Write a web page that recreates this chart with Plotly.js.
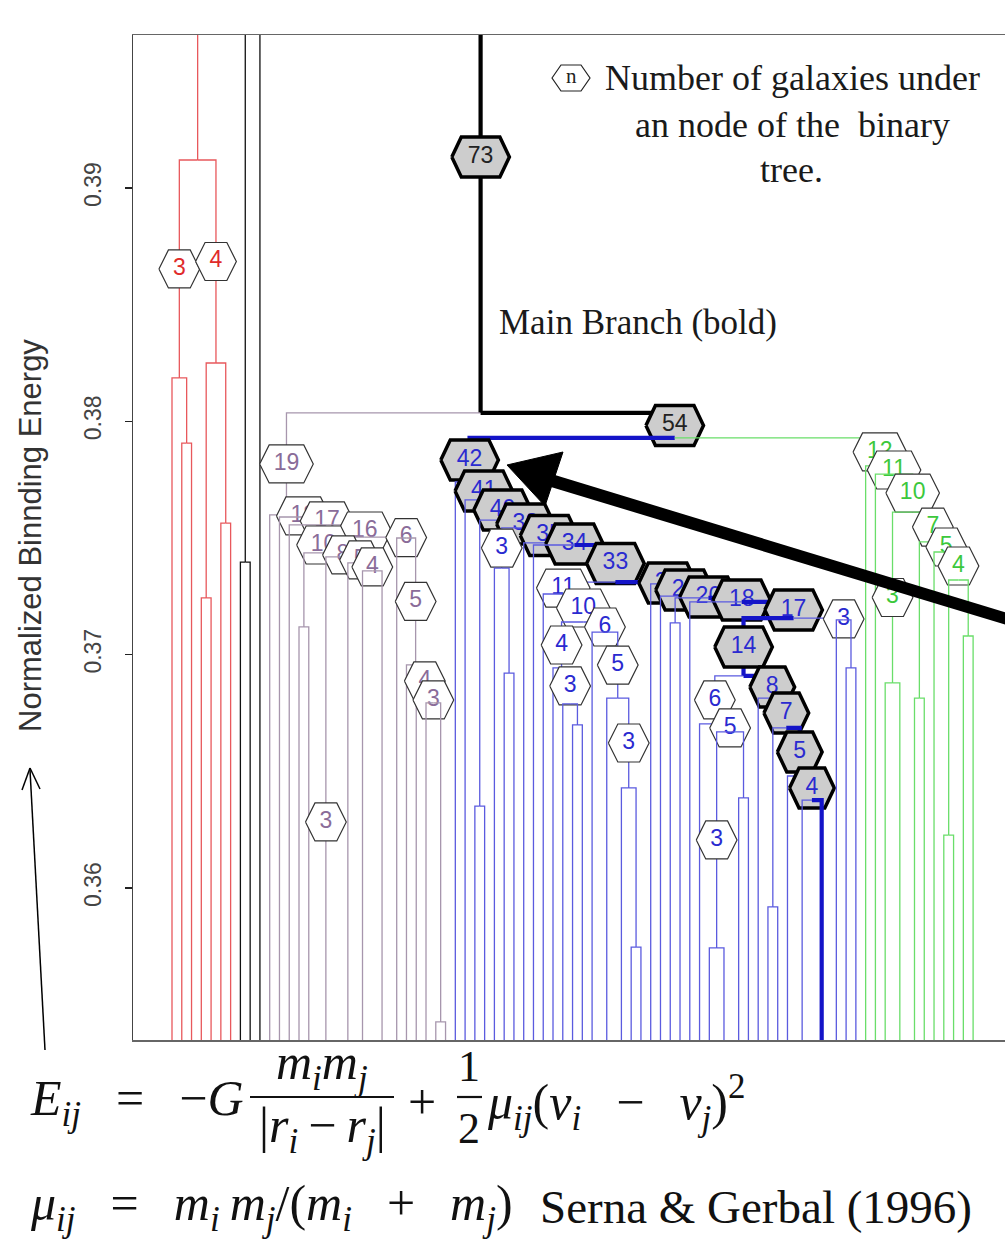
<!DOCTYPE html>
<html><head><meta charset="utf-8">
<script src="https://cdn.plot.ly/plotly-3.0.1.min.js"></script>
<style>html,body{margin:0;padding:0;overflow:hidden;background:#fff}</style>
</head><body>
<div id="chart" style="width:1030px;height:1239px"></div>
<script>
// ================= DATA =================
// 83 leaves (galaxies) in dendrogram order, numbered 0..82
const leafCount = 83;
const leafBaseHeight = 0.35;
// merge table: node name, left child, right child, merge height (normalized binding energy)
const nodeName = ['r12','r3','r34','r56','r4','R','C',
 'p2728','p3','p4','p5','p6','p1920','p2122','p4a','p5a','p1617','p3a','p8','p1314','p10','p16','p17','p18','p19',
 'b3132','b3435','b3','b4142','b3c','b4','b4445','b4748','b3d','b5','b6','b10','b11','b5152','b5657','b3w','b5859','b5w','b6w','b6162','b6465','b6667',
 'bc4','bc5','bc7','bc8','bc14','b6970','b3e','bc17','bc18','bc20','bc21','bc22','bc33','bc34','bc35','bc38','bc40','bc41','bc42',
 'g7475','g3','g7677','g7980','g8182','g4','g5','g7','g10','g11','g12','M54','M73','T1','T2','T3'];
const nodeLeft = ['L1','L0','L3','L5','r34','r3','L7',
 'L27','L26','L25','L24','L23','L19','L21','p1920','L18','L16','L15','p3a','L13','p1314','p10','L12','L11','L10',
 'L31','L34','L33','L41','L40','L39','L44','L47','L46','b4445','L43','b4','L38','L51','L56','L55','L58','b3w','L54','L61','L64','L66',
 'b6465','L63','b6162','L60','b6w','L69','L68','bc14','L53','b5152','L50','L49','b11','L37','L36','b3','b3132','L30','L29',
 'L74','L73','L76','L79','L81','g7980','L78','g7677','g3','L72','L71','bc42','p19','L9','C','R'];
const nodeRight = ['L2','r12','L4','L6','r56','r4','L8',
 'L28','p2728','p3','p4','p5','L20','L22','p2122','p4a','L17','p1617','p5a','L14','p8','p6','p16','p17','p18',
 'L32','L35','b3435','L42','b4142','b3c','L45','L48','b4748','b3d','b5','b6','b10','L52','L57','b5657','L59','b5859','b5w','L62','L65','L67',
 'b6667','bc4','bc5','bc7','bc8','L70','b6970','b3e','bc17','bc18','bc20','bc21','bc22','bc33','bc34','bc35','bc38','bc40','bc41',
 'L75','g7475','L77','L80','L82','g8182','g4','g5','g7','g10','g11','g12','M54','M73','T1','T2'];
const nodeHeight = [0.37907,0.38186,0.37243,0.37564,0.38250,0.39120,0.37397,
 0.35426,0.36793,0.36819,0.36956,0.37500,0.3520,0.3520,0.37359,0.37393,0.3510,0.35147,0.37419,0.37119,0.37436,0.37504,0.37556,0.37590,0.37599,
 0.36351,0.36921,0.37371,0.36699,0.36789,0.36943,0.3520,0.35747,0.36429,0.36814,0.37097,0.37140,0.37260,0.37136,0.3520,0.35743,0.36386,0.36669,0.36703,0.35919,0.3520,0.3520,
 0.36377,0.36480,0.36686,0.36814,0.36909,0.36943,0.37149,0.37157,0.37226,0.37243,0.37251,0.37303,0.37311,0.37470,0.37479,0.37543,0.37577,0.37663,0.37740,
 0.3520,0.36879,0.36814,0.36227,0.37080,0.37320,0.37440,0.37483,0.37611,0.37774,0.37809,0.37929,0.38036,0.40230,0.406,0.41];
// colour groups (sub-tree roots)
const groupRoots = ['R','C','L9','p19','bc42','g12'];
const groupLineColors = ['#e8585c','#111111','#111111','#a796ad','#5b5bdf','#6ade6a'];
const groupTextColors = ['#e02a2a','#222222','#222222','#8a6c99','#2a2ad0','#3cc83c'];
const groupBoldColors = ['#e02a2a','#000000','#000000','#8a6c99','#1414c8','#2fbf2f'];
const defaultLineColor = '#000000';
const mainPathLeaf = 'L66';
const tickValues = [0.36, 0.37, 0.38, 0.39];
const tickLabels = ['0.36', '0.37', '0.38', '0.39'];
const yTitle = 'Normalized Binnding Energy';

// ================= LAYOUT GEOMETRY =================
const W = 1030, H = 1239;
const M = {l:133, r:10, t:35, b:199};
const PW = W - M.l - M.r, PH = H - M.t - M.b;
const xRange = [-3.992, 86.80];
const yRange = [0.353486, 0.396557];
const ux = (xRange[1]-xRange[0]) / PW;   // data units per px
const uy = (yRange[1]-yRange[0]) / PH;
const px2x = p => (p - M.l) / PW;            // page px -> paper
const py2y = p => (M.t + PH - p) / PH;

// ================= BUILD TREE =================
const nodes = {};
for (let i = 0; i < leafCount; i++) nodes['L'+i] = {leaf:true, x:i, h:leafBaseHeight, size:1};
nodeName.forEach((n,k) => { nodes[n] = {leaf:false, left:nodeLeft[k], right:nodeRight[k], h:nodeHeight[k]}; });
function calc(n){ const d = nodes[n]; if (d.leaf) return d; const a = calc(d.left), b = calc(d.right); d.x = (a.x+b.x)/2; d.size = a.size + b.size; return d; }
const rootName = nodeName[nodeName.length-1];
calc(rootName);
function assign(n, gi, parent){
  const d = nodes[n]; d.parent = parent;
  const g = groupRoots.indexOf(n); if (g >= 0) gi = g;
  d.g = gi;
  if (!d.leaf){ assign(d.left, gi, n); assign(d.right, gi, n); }
}
assign(rootName, -1, null);
let mp = nodes[mainPathLeaf];
while (mp){ mp.main = true; mp = mp.parent ? nodes[mp.parent] : null; }

// pre-order drawing (edge, then its label, then the sub-tree), like plot.dendrogram
const ops = [];
function plotNode(n){
  const d = nodes[n];
  [d.left, d.right].forEach(c => {
    const cd = nodes[c];
    const lc = cd.g >= 0 ? (cd.main ? groupBoldColors[cd.g] : groupLineColors[cd.g]) : defaultLineColor;
    ops.push({type:'seg', x:[d.x, cd.x, cd.x, null], y:[d.h, d.h, cd.h, null], color:lc, width: cd.main ? 4.2 : 1.3});
    const my = (d.h + cd.h)/2;
    if (cd.size >= 3 && my > yRange[0] && my < yRange[1])
      ops.push({type:'hex', x:cd.x, y:my, text:String(cd.size), main:!!cd.main,
        color: cd.g >= 0 ? groupTextColors[cd.g] : '#222'});
    if (!cd.leaf) plotNode(c);
  });
}
plotNode(rootName);

const hexFont = 23;
const traces = [];
let cur = null;
ops.forEach(op => {
  if (op.type === 'seg'){
    if (cur && cur.line.color === op.color && cur.line.width === op.width){
      cur.x.push(...op.x); cur.y.push(...op.y);
    } else {
      cur = {type:'scatter', mode:'lines', x:[...op.x], y:[...op.y], line:{color:op.color, width:op.width},
             hoverinfo:'skip', showlegend:false, connectgaps:false};
      traces.push(cur);
    }
  } else {
    cur = null;
    const tw = op.text.length * 0.556 * hexFont;
    const extra = op.main ? 2 : 0;
    const hw = (tw/2 + 14 + extra) * ux, fw = (tw/2 + 4.5 + extra) * ux, hh = (19 + extra/2) * uy;
    const x = op.x, y = op.y;
    traces.push({type:'scatter', mode:'lines',
      x:[x-hw, x-fw, x+fw, x+hw, x+fw, x-fw, x-hw],
      y:[y, y+hh, y+hh, y, y-hh, y-hh, y],
      fill:'toself', fillcolor: op.main ? '#cdcdcd' : '#ffffff',
      line:{color: op.main ? '#000' : '#333', width: op.main ? 3.5 : 1.2},
      hoverinfo:'skip', showlegend:false});
    traces.push({type:'scatter', mode:'text', x:[x], y:[y], text:[op.text], textposition:'middle center',
      textfont:{family:'Liberation Sans, Arial, sans-serif', size:hexFont, color:op.color},
      hoverinfo:'skip', showlegend:false});
  }
});

// ================= ANNOTATIONS =================
const serif = 'Liberation Serif, Times New Roman, serif';
function ann(text, px, py, opts){
  return Object.assign({text:text, x:px2x(px), y:py2y(py), xref:'paper', yref:'paper', showarrow:false,
    xanchor:'center', yanchor:'middle', font:{family:serif, size:36, color:'#1a1a1a'}}, opts||{});
}
function pathPx(pts){ return 'M ' + pts.map(p => px2x(p[0]).toFixed(5)+','+py2y(p[1]).toFixed(5)).join(' L ') + ' Z'; }
function linePx(x0,y0,x1,y1,w,c){ return {type:'line', xref:'paper', yref:'paper', x0:px2x(x0), y0:py2y(y0), x1:px2x(x1), y1:py2y(y1), line:{color:c||'#000', width:w}}; }
const mathFont = {family:serif, size:50, color:'#111'};
const sp = '\u2002\u2009';

const annotations = [
  ann(yTitle, 30, 536, {textangle:-90, font:{family:'Liberation Sans, Arial, sans-serif', size:31, color:'#333'}}),
  ann('n', 571, 76, {font:{family:serif, size:21, color:'#222'}}),
  ann('Number of galaxies under', 603, 78, {xanchor:'left'}),
  ann('an node of the \u00a0binary', 792, 125),
  ann('tree.', 791, 170),
  ann('Main Branch (bold)', 638, 323, {font:{family:serif, size:35, color:'#1a1a1a'}}),
  // formula line 1
  ann('<i>E</i><sub><i>ij</i></sub>' + sp + '=' + sp + '\u2212<i>G</i>', 28, 1102, {xanchor:'left', font:mathFont}),
  ann('<i>m</i><sub><i>i</i></sub><i>m</i><sub><i>j</i></sub>', 322, 1066, {font:mathFont}),
  ann('|<i>r</i><sub><i>i</i></sub>\u2009\u2212\u2009<i>r</i><sub><i>j</i></sub>|', 322, 1129, {font:mathFont}),
  ann('+', 422, 1102, {font:mathFont}),
  ann('1', 469, 1066, {font:{family:serif, size:44, color:'#111'}}),
  ann('2', 469, 1128, {font:{family:serif, size:44, color:'#111'}}),
  ann('<i>\u03bc</i><sub><i>ij</i></sub>(<i>v</i><sub><i>i</i></sub>' + sp + '\u2212' + sp + '<i>v</i><sub><i>j</i></sub>)<sup>2</sup>', 485, 1102, {xanchor:'left', font:mathFont}),
  // formula line 2
  ann('<i>\u03bc</i><sub><i>ij</i></sub>' + sp + '=' + sp + '<i>m</i><sub><i>i</i></sub>\u2009<i>m</i><sub><i>j</i></sub>/(<i>m</i><sub><i>i</i></sub>' + sp + '+' + sp + '<i>m</i><sub><i>j</i></sub>)', 28, 1207, {xanchor:'left', font:mathFont}),
  ann('Serna &amp; Gerbal (1996)', 538, 1207, {xanchor:'left', font:{family:serif, size:47, color:'#111'}})
];

const tip = [507, 465];
const shapes = [
  // legend hexagon
  {type:'path', xref:'paper', yref:'paper', path: pathPx([[552,78],[561,65],[581,65],[590,78],[581,91],[561,91]]), line:{color:'#222', width:1.2}, fillcolor:'rgba(0,0,0,0)'},
  // big arrow: shaft + head
  {type:'path', xref:'paper', yref:'paper', path: pathPx([[550,473.5],[1030,620],[1030,632],[546,485.5]]), line:{width:0}, fillcolor:'#000'},
  {type:'path', xref:'paper', yref:'paper', path: pathPx([tip,[563,452],[545,506]]), line:{color:'#000', width:1}, fillcolor:'#000'},
  // left thin arrow
  linePx(45, 1050, 30, 770, 1.5),
  linePx(30, 768, 22, 790, 1.5),
  linePx(30, 768, 40, 789, 1.5),
  // fraction bars
  linePx(250, 1097, 394, 1097, 2.2, '#111'),
  linePx(457, 1097, 482, 1097, 2.2, '#111')
];

const layout = {
  width:W, height:H, margin:M, paper_bgcolor:'#fff', plot_bgcolor:'#fff',
  xaxis:{range:xRange, showgrid:false, zeroline:false, showticklabels:false, ticks:'', showline:true, mirror:true, linecolor:'#666', linewidth:1.5, fixedrange:true},
  yaxis:{range:yRange, showgrid:false, zeroline:false, tickvals:tickValues, ticktext:tickLabels, tickangle:-90,
         ticks:'outside', ticklen:7, tickwidth:1.2, tickcolor:'#222', showline:true, mirror:true, linecolor:'#444', linewidth:1.5,
         tickfont:{family:'Liberation Sans, Arial, sans-serif', size:23, color:'#444'}, ticklabelstandoff:14, fixedrange:true},
  annotations:annotations, shapes:shapes, showlegend:false
};
Plotly.newPlot('chart', traces, layout, {staticPlot:true, displayModeBar:false});
</script>
</body></html>
